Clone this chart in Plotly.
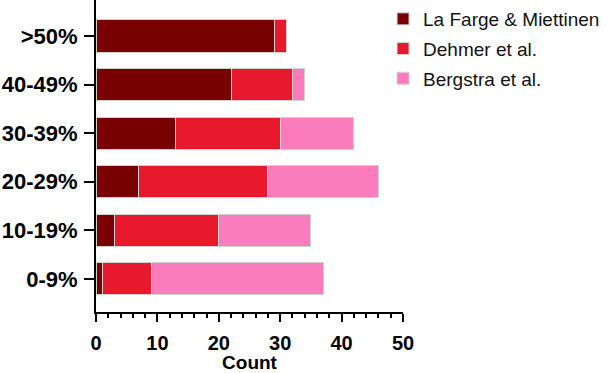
import plotly.graph_objects as go

categories = ["0-9%", "10-19%", "20-29%", "30-39%", "40-49%", ">50%"]
la_farge = [1, 3, 7, 13, 22, 29]
dehmer = [8, 17, 21, 17, 10, 2]
bergstra = [28, 15, 18, 12, 2, 0]
series_names = ["La Farge & Miettinen", "Dehmer et al.", "Bergstra et al."]
colors = ["#780000", "#e8192c", "#fb7cbd"]

fig = go.Figure()
for name, vals, col in zip(series_names, [la_farge, dehmer, bergstra], colors):
    fig.add_trace(go.Bar(
        y=categories, x=vals, orientation="h", name=name,
        legendgroup=name,
        marker=dict(color=col, line=dict(color="#d0d0d0", width=1)),
        width=0.66,
    ))

fig.update_layout(
    barmode="stack",
    width=610, height=373,
    margin=dict(l=96, r=207, t=0, b=61),
    paper_bgcolor="white", plot_bgcolor="white",
    font=dict(family="Liberation Sans, Arial, sans-serif", color="black"),
    showlegend=True,
    legend=dict(
        x=0.935, y=1.0, xanchor="left", yanchor="top",
        traceorder="grouped", tracegroupgap=2,
        font=dict(size=19, color="#111111"),
        bgcolor="rgba(0,0,0,0)",
    ),
    xaxis=dict(
        range=[0, 50], dtick=10, showgrid=False, zeroline=False,
        showline=True, linecolor="black", linewidth=2,
        ticks="outside", ticklen=8, tickwidth=2, tickcolor="black",
        tickfont=dict(size=20, family="Liberation Sans, Arial, sans-serif", weight="bold"),
        ticklabelstandoff=4,
        minor=dict(dtick=2, ticks="outside", ticklen=4, tickwidth=2, tickcolor="black", showgrid=False),
        title=dict(text="<b>Count</b>", font=dict(size=19), standoff=2),
    ),
    yaxis=dict(
        type="category", categoryorder="array", categoryarray=categories,
        range=[-0.68, 5.74], showgrid=False, zeroline=False,
        showline=True, linecolor="black", linewidth=2,
        ticks="outside", ticklen=10, tickwidth=2, tickcolor="black",
        tickfont=dict(size=22, family="Liberation Sans, Arial, sans-serif", weight="bold"),
        ticklabelstandoff=2,
    ),
)

fig.write_html("out.html")
